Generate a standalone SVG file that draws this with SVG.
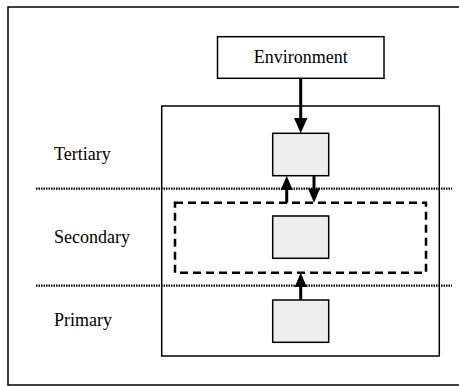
<svg xmlns="http://www.w3.org/2000/svg" width="459" height="386" viewBox="0 0 459 386">
<style>
.frame{fill:#fff;stroke:#000;stroke-width:1.5}
.box{fill:#fff;stroke:#000;stroke-width:1.5}
.cell{fill:#eeeeee;stroke:#000;stroke-width:1.5}
.dash{fill:none;stroke:#000;stroke-width:2.5;stroke-dasharray:8,5}
.dot{fill:none;stroke:#000;stroke-width:2.2;stroke-dasharray:1.5,1}
.arr{stroke:#000;stroke-width:3;fill:none}
</style>
<rect x="0" y="0" width="459" height="386" fill="#fff"/>
<rect class="frame" x="8" y="7" width="460" height="378"/>
<g id="levels">
<line class="dot" x1="36" y1="188.7" x2="452" y2="188.7"/>
<line class="dot" x1="36" y1="285.7" x2="452" y2="285.7"/>
<text x="54" y="160" font-family="'Liberation Serif', serif" font-size="18">Tertiary</text>
<text x="54" y="243" font-family="'Liberation Serif', serif" font-size="18">Secondary</text>
<text x="54" y="326" font-family="'Liberation Serif', serif" font-size="18">Primary</text>
</g>
<g id="environment">
<rect class="box" x="217.5" y="36.7" width="166.5" height="41.6"/>
<text x="300.7" y="63" text-anchor="middle" font-family="'Liberation Serif', serif" font-size="18">Environment</text>
</g>
<g id="system">
<rect x="161.7" y="106" width="277.6" height="250" fill="none" stroke="#000" stroke-width="1.5"/>
</g>
<g id="secondary-region">
<rect class="dash" x="175" y="202.7" width="251" height="70"/>
</g>
<g id="tertiary-node"><rect class="cell" x="272.7" y="133.3" width="56" height="42.4"/></g>
<g id="secondary-node"><rect class="cell" x="272.7" y="216" width="56" height="42.3"/></g>
<g id="primary-node"><rect class="cell" x="272.7" y="300" width="56" height="42.3"/></g>
<g id="connectors">
<line class="arr" x1="300.7" y1="78.3" x2="300.7" y2="120"/>
<polygon points="294,118 307.4,118 300.7,133.3"/>
<line class="arr" x1="286.7" y1="202.7" x2="286.7" y2="188"/>
<polygon points="280.7,190 292.7,190 286.7,175.7"/>
<line class="arr" x1="314" y1="175.7" x2="314" y2="190"/>
<polygon points="308,188.5 320,188.5 314,202.7"/>
<line class="arr" x1="300.7" y1="300" x2="300.7" y2="285"/>
<polygon points="294.7,287 306.7,287 300.7,272.7"/>
</g>
</svg>
